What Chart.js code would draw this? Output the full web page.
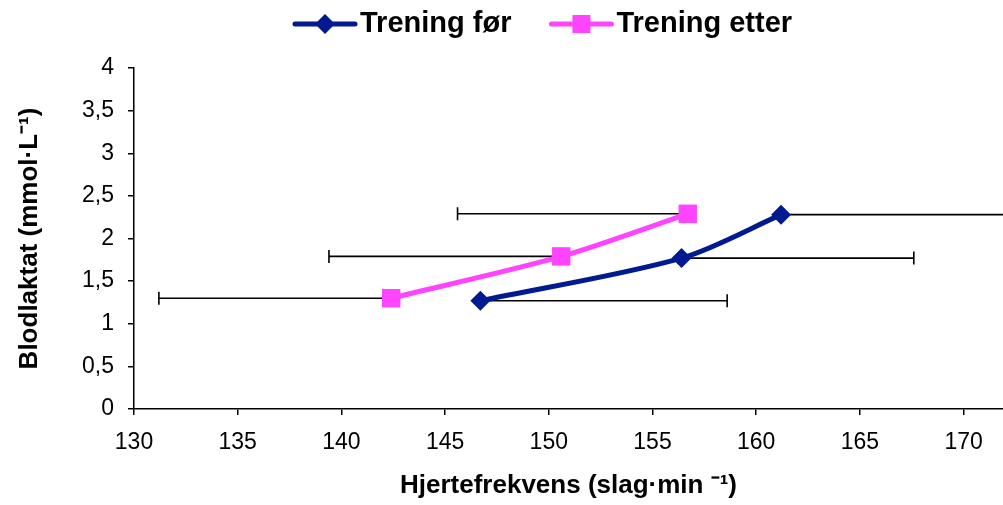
<!DOCTYPE html>
<html>
<head>
<meta charset="utf-8">
<script src="https://cdn.jsdelivr.net/npm/chart.js@4"></script>
<style>
  html, body { margin: 0; padding: 0; background: #fff; overflow: hidden; }
  canvas { display: block; }
</style>
</head>
<body>
<canvas id="lactate" width="1003" height="505"></canvas>
<script>
// heart rate (x), blood lactate (y) and horizontal SD for each test
var forHR = [146.7, 156.4, 161.2];
var forLac = [1.27, 1.77, 2.28];
var forSD = [11.9, 11.2, 12.5];
var etterHR = [142.4, 150.6, 156.7];
var etterLac = [1.30, 1.79, 2.29];
var etterSD = [11.2, 11.2, 11.1];
var xTicks = [130, 135, 140, 145, 150, 155, 160, 165, 170];

var navy = '#021a8f';
var pink = '#ff44ff';
var tickFont = { family: 'Liberation Sans', size: 23 };

function points(xs, ys) {
    return xs.map(function (v, i) { return { x: v, y: ys[i] }; });
}

// horizontal SD bars, one-sided, drawn under the lines
var errorBars = {
    id: 'errorBars',
    beforeDatasetsDraw: function (chart) {
        var ctx = chart.ctx, area = chart.chartArea;
        var xs = chart.scales.x, ys = chart.scales.y;
        ctx.save();
        ctx.beginPath();
        ctx.rect(area.left, area.top, area.right - area.left + 2, area.bottom - area.top);
        ctx.clip();
        ctx.strokeStyle = '#000';
        ctx.lineWidth = 1.6;
        chart.data.datasets.forEach(function (ds) {
            ds.data.forEach(function (p, i) {
                var x0 = xs.getPixelForValue(p.x);
                var x1 = xs.getPixelForValue(p.x + ds.errDir * ds.errX[i]);
                var yy = ys.getPixelForValue(p.y);
                ctx.beginPath();
                ctx.moveTo(x0, yy); ctx.lineTo(x1, yy);
                ctx.moveTo(x1, yy - 6.5); ctx.lineTo(x1, yy + 6.5);
                ctx.stroke();
            });
        });
        ctx.restore();
    }
};

// legend with line + marker symbols, like the original
var lineLegend = {
    id: 'lineLegend',
    afterDraw: function (chart) {
        var c = chart.ctx;
        var x = 293, y = 24;
        c.save();
        c.font = 'bold 29px "Liberation Sans"';
        c.textBaseline = 'middle';
        chart.data.datasets.forEach(function (ds) {
            c.strokeStyle = ds.borderColor;
            c.fillStyle = ds.backgroundColor;
            c.lineWidth = 5;
            c.lineCap = 'round';
            c.beginPath(); c.moveTo(x + 2, y); c.lineTo(x + 62, y); c.stroke();
            var cx = x + 32;
            c.beginPath();
            if (ds.pointStyle === 'rectRot') {
                c.moveTo(cx, y - 10); c.lineTo(cx + 10, y); c.lineTo(cx, y + 10); c.lineTo(cx - 10, y);
                c.closePath();
            } else {
                c.rect(cx - 9, y - 9, 18, 18);
            }
            c.fill();
            c.fillStyle = '#000';
            c.fillText(ds.label, x + 67, y);
            x += 67 + c.measureText(ds.label).width + 38;
        });
        c.restore();
    }
};

var ctx = document.getElementById('lactate').getContext('2d');
var chart = new Chart(ctx, {
    type: 'scatter',
    data: {
        datasets: [{
            label: 'Trening før',
            data: points(forHR, forLac),
            errX: forSD,
            errDir: 1,
            showLine: true,
            borderColor: navy,
            backgroundColor: navy,
            borderWidth: 5,
            tension: 0.3,
            pointStyle: 'rectRot',
            pointRadius: 10,
            pointBorderWidth: 0
        }, {
            label: 'Trening etter',
            data: points(etterHR, etterLac),
            errX: etterSD,
            errDir: -1,
            showLine: true,
            borderColor: pink,
            backgroundColor: pink,
            borderWidth: 5,
            tension: 0.3,
            pointStyle: 'rect',
            pointRadius: 13,
            pointBorderWidth: 0
        }]
    },
    options: {
        responsive: false,
        animation: false,
        layout: { autoPadding: false, padding: { top: 68, left: 0, right: 0, bottom: 0 } },
        plugins: {
            tooltip: { enabled: false },
            legend: { display: false }
        },
        scales: {
            x: {
                type: 'linear',
                min: 130,
                max: 171.9,
                afterBuildTicks: function (s) {
                    s.ticks = xTicks.map(function (v) { return { value: v }; });
                },
                afterFit: function (s) {
                    s.height = 96;
                    s.paddingLeft = 0;
                    s.paddingRight = 0;
                },
                grid: { drawOnChartArea: false, drawTicks: true, tickLength: 6, color: '#000', lineWidth: 1.5 },
                border: { display: true, color: '#000', width: 1.5 },
                ticks: {
                    color: '#000',
                    padding: 14,
                    maxRotation: 0,
                    font: tickFont
                },
                title: {
                    display: true,
                    text: 'Hjertefrekvens (slag·min ⁻¹)',
                    color: '#000',
                    padding: { top: 2, bottom: 4 },
                    font: { family: 'Liberation Sans', size: 26, weight: 'bold' }
                }
            },
            y: {
                min: 0,
                max: 4,
                afterFit: function (s) { s.width = 134; },
                grid: { drawOnChartArea: false, drawTicks: true, tickLength: 6, color: '#000', lineWidth: 1.5 },
                border: { display: true, color: '#000', width: 1.5 },
                ticks: {
                    stepSize: 0.5,
                    color: '#000',
                    padding: 14,
                    font: tickFont,
                    callback: function (v) { return String(v).replace('.', ','); }
                },
                title: {
                    display: true,
                    text: 'Blodlaktat (mmol·L⁻¹)',
                    color: '#000',
                    padding: { top: 14, bottom: 4 },
                    font: { family: 'Liberation Sans', size: 26, weight: 'bold' }
                }
            }
        }
    },
    plugins: [errorBars, lineLegend]
});
</script>
</body>
</html>
